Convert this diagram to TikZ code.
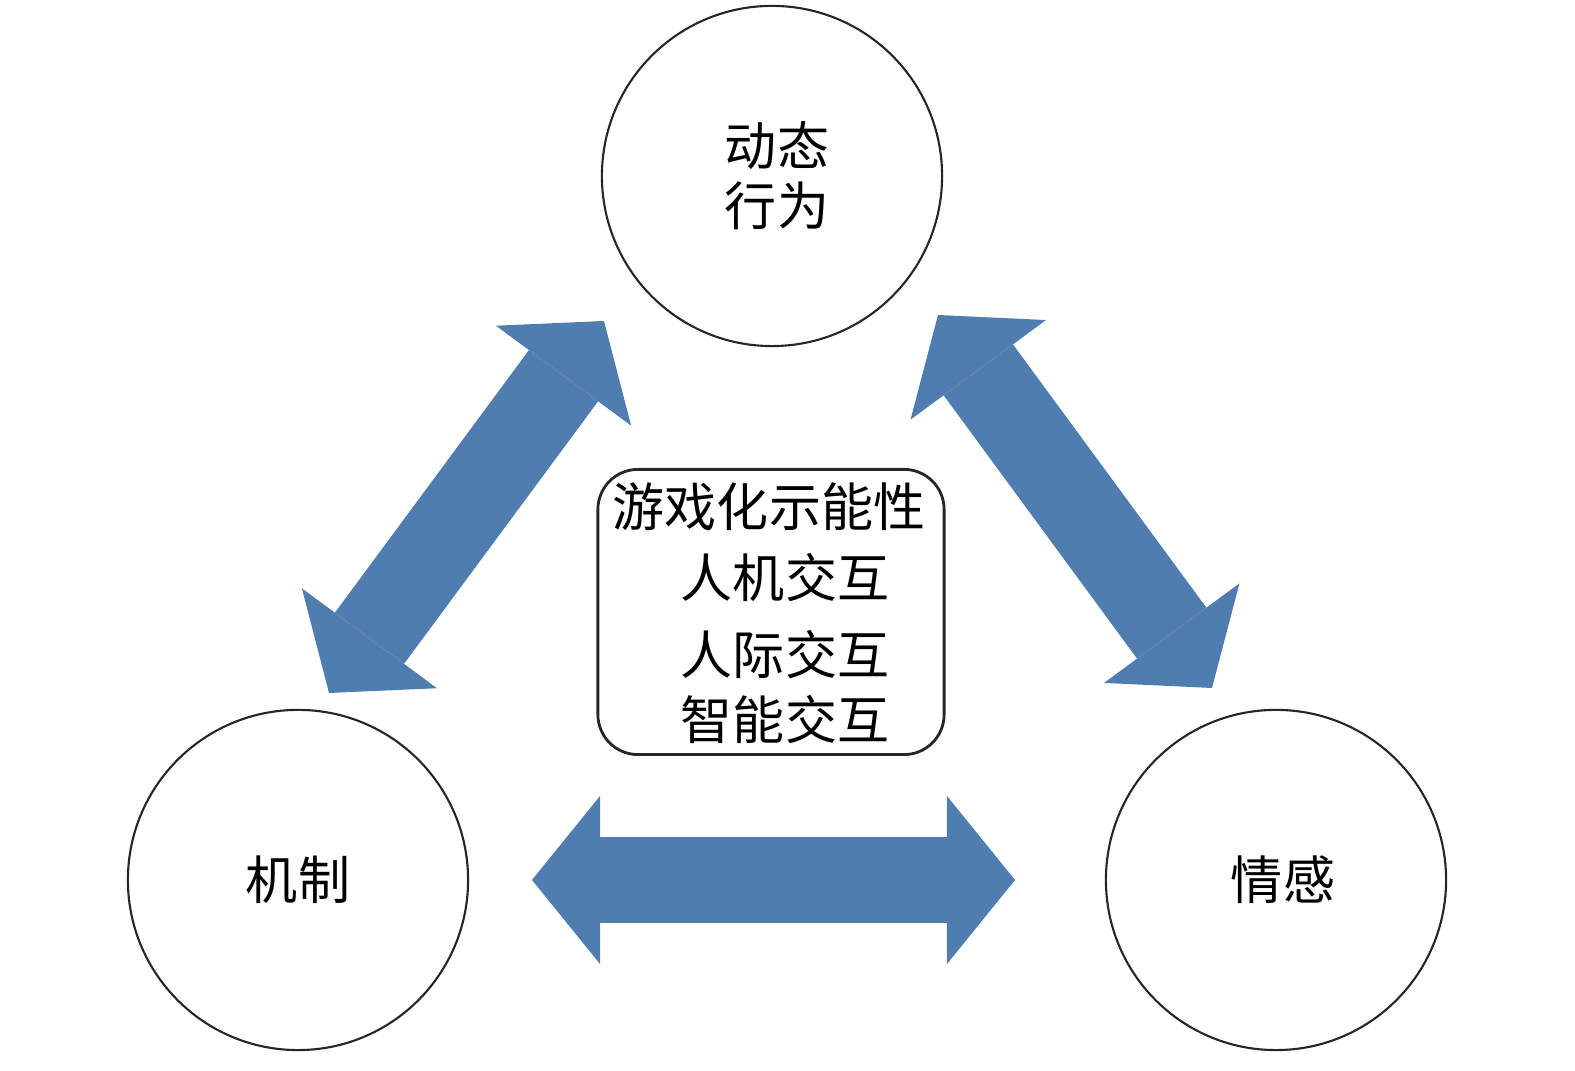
\documentclass[tikz,border=0pt]{standalone}
\usepackage{fontspec}
\setmainfont{Noto Sans CJK SC}
\usetikzlibrary{arrows.meta}
\definecolor{arrowblue}{RGB}{80,125,176}
\tikzset{
  label font/.style={font=\fontsize{14.8}{17}\selectfont},
  bubble/.style={circle, draw=black!85, line width=0.6pt, minimum size=3.4cm, inner sep=0pt, align=center, label font},
  corebox/.style={draw=black!85, line width=0.8pt, rounded corners=0.4cm, minimum width=3.46cm, minimum height=2.85cm, inner sep=0pt},
  blockarrow/.style={draw=arrowblue, line width=0.86cm, line cap=butt,
    >={Triangle[length=0.68cm, width=1.68cm, line width=0pt]}, <->},
}
\begin{document}
\begin{tikzpicture}[x=0.01cm, y=-0.01cm, line join=round]
		\useasboundingbox (0,0) rectangle (1575,1071);
		\node[bubble] (dyn) at (772,176) {\hspace{0.1cm}动态\\\hspace{0.1cm}行为};
		\node[bubble] (mech) at (298,880) {机制};
		\node[bubble] (emo) at (1276,880) {\hspace{0.14cm}情感};
		\node[corebox] (core) at (771,612) {};
		\node[label font] (c1) at (769,507) {游戏化示能性};
		\node[label font] (c2) at (785,578) {人机交互};
		\node[label font] (c3) at (785,655) {人际交互};
		\node[label font] (c4) at (785,720) {智能交互};
		\coordinate (L1) at (604,321);
		\coordinate (L2) at (329,693);
		\coordinate (R1) at (938,315);
		\coordinate (R2) at (1212,688);
		\coordinate (H1) at (532,880);
		\coordinate (H2) at (1015,880);
		\foreach \a/\b in {L1/L2, R1/R2, H1/H2}
		\draw[blockarrow] (\a) -- (\b);
	\end{tikzpicture}
\end{document}
